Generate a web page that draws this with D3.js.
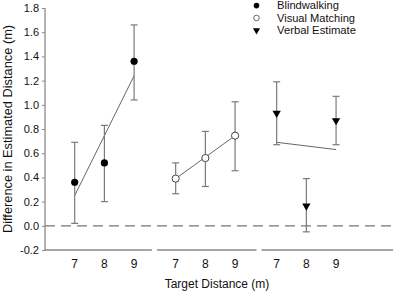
<!DOCTYPE html>
<html><head><meta charset="utf-8">
<script src="https://cdn.jsdelivr.net/npm/d3@7"></script>
<style>body{margin:0;background:#fff}svg{display:block}text{font-family:Arial,"Liberation Sans",sans-serif}</style>
</head><body>
<svg id="c" width="394" height="291"></svg>
<script>
const conditions = ["Blindwalking", "Visual Matching", "Verbal Estimate"];
const distances = ["7", "8", "9"];
const meanBW = [0.36, 0.52, 1.36];
const lowBW = [0.02, 0.20, 1.04];
const highBW = [0.69, 0.83, 1.66];
const meanVM = [0.39, 0.56, 0.745];
const lowVM = [0.265, 0.325, 0.455];
const highVM = [0.52, 0.78, 1.025];
const meanVE = [0.93, 0.165, 0.87];
const lowVE = [0.67, -0.05, 0.67];
const highVE = [1.19, 0.39, 1.07];
const fitStart = [0.25, 0.39, 0.69];
const fitEnd = [1.24, 0.745, 0.63];
const yTicks = [-0.2, 0.0, 0.2, 0.4, 0.6, 0.8, 1.0, 1.2, 1.4, 1.6, 1.8];

const means = [meanBW, meanVM, meanVE];
const lows = [lowBW, lowVM, lowVE];
const highs = [highBW, highVM, highVE];

const svg = d3.select("#c");
const y = d3.scaleLinear().domain([-0.2, 1.8]).range([250, 8]);
// slot units: group g, category j -> g*3.4 + j
const x = d3.scaleLinear().domain([-1, 12]).range([45, 45 + 13 * 29.7]);
const slot = (g, j) => g * 3.4 + j;

const axisCol = "#8a8a8a";
const barCol = "#7a7a7a";

// y axis
const yAxis = svg.append("g").attr("transform", "translate(45,0)")
  .call(d3.axisLeft(y).tickValues(yTicks).tickFormat(d3.format(".1f")).tickSize(3).tickPadding(3));
yAxis.select(".domain").attr("stroke", axisCol).attr("stroke-width", 1.3).attr("d", `M0,${y(1.8)}V${y(-0.2)}`);
yAxis.selectAll(".tick line").attr("stroke", axisCol);
yAxis.selectAll(".tick text").attr("font-size", 11).attr("fill", "#111")
  .text(d => d < 0 ? "-" + Math.abs(d).toFixed(1) : d.toFixed(1));

// broken x axis
const segs = [[-1, 2.6], [2.77, 6.12], [6.29, 10.72]];
svg.append("g").selectAll("line").data(segs).join("line")
  .attr("x1", d => x(d[0])).attr("x2", d => x(d[1]))
  .attr("y1", y(-0.2)).attr("y2", y(-0.2))
  .attr("stroke", axisCol).attr("stroke-width", 1.3);

// x tick labels
conditions.forEach((c, g) => {
  svg.append("g").selectAll("text").data(distances).join("text")
    .attr("x", (d, j) => x(slot(g, j))).attr("y", 268)
    .attr("text-anchor", "middle").attr("font-size", 12).attr("fill", "#111")
    .text(d => d);
});

// zero dashed line
svg.append("line").attr("x1", 45).attr("x2", 394).attr("y1", y(0)).attr("y2", y(0))
  .attr("stroke", "#777").attr("stroke-width", 1.2).attr("stroke-dasharray", "10,6");

// axis labels
svg.append("text").attr("transform", `translate(12,${(y(1.8)+y(-0.2))/2}) rotate(-90)`)
  .attr("text-anchor", "middle").attr("font-size", 12.8).attr("fill", "#111")
  .text("Difference in Estimated Distance (m)");
svg.append("text").attr("x", 217).attr("y", 288).attr("text-anchor", "middle")
  .attr("font-size", 12).attr("fill", "#111").text("Target Distance (m)");

// fit lines
svg.append("g").selectAll("line").data(conditions).join("line")
  .attr("x1", (d, g) => x(slot(g, 0))).attr("x2", (d, g) => x(slot(g, 2)))
  .attr("y1", (d, g) => y(fitStart[g])).attr("y2", (d, g) => y(fitEnd[g]))
  .attr("stroke", "#666").attr("stroke-width", 1);

const cap = 3.5;
const tri = d3.symbol().type(d3.symbolTriangle).size(30);
function marker(sel, g, cx, cy) {
  if (g === 0) sel.append("circle").attr("cx", cx).attr("cy", cy).attr("r", 3.6).attr("fill", "#000");
  else if (g === 1) sel.append("circle").attr("cx", cx).attr("cy", cy).attr("r", 3.6).attr("fill", "#fff").attr("stroke", "#444").attr("stroke-width", 1);
  else sel.append("path").attr("d", tri).attr("transform", `translate(${cx},${cy}) rotate(180)`).attr("fill", "#000");
}

conditions.forEach((c, g) => {
  const gg = svg.append("g");
  distances.forEach((d, j) => {
    const cx = x(slot(g, j));
    gg.append("line").attr("x1", cx).attr("x2", cx).attr("y1", y(lows[g][j])).attr("y2", y(highs[g][j]))
      .attr("stroke", barCol).attr("stroke-width", 1.2);
    [lows[g][j], highs[g][j]].forEach(v => {
      gg.append("line").attr("x1", cx - cap).attr("x2", cx + cap).attr("y1", y(v)).attr("y2", y(v))
        .attr("stroke", barCol).attr("stroke-width", 1.2);
    });
    marker(gg, g, cx, y(means[g][j]));
  });
});

// legend
const legY = [5.6, 18, 30.4];
const legW = [62, 78, 79];
const leg = svg.append("g");
conditions.forEach((c, g) => {
  if (g === 0) leg.append("circle").attr("cx", 256.5).attr("cy", legY[g]).attr("r", 2.8).attr("fill", "#000");
  else if (g === 1) leg.append("circle").attr("cx", 256.5).attr("cy", legY[g]).attr("r", 2.8).attr("fill", "#fff").attr("stroke", "#666");
  else leg.append("path").attr("d", d3.symbol().type(d3.symbolTriangle).size(22)).attr("transform", `translate(256.5,${legY[g]}) rotate(180)`).attr("fill", "#000");
  leg.append("text").attr("x", 277).attr("y", legY[g]).attr("dy", "0.35em")
    .attr("font-size", 11).attr("fill", "#111")
    .attr("textLength", legW[g]).attr("lengthAdjust", "spacingAndGlyphs").text(c);
});
</script>
</body></html>
